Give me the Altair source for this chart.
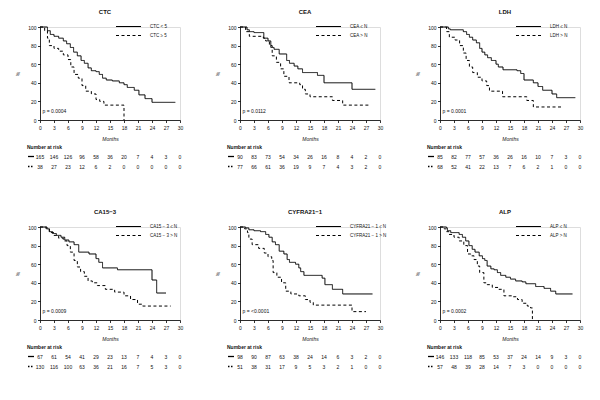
import altair as alt
import pandas as pd

FONT = "Liberation Sans"
MONTH_TICKS = [0, 3, 6, 9, 12, 15, 18, 21, 24, 27, 30]
PCT_TICKS = [0, 20, 40, 60, 80, 100]

TITLES = ["CTC", "CEA", "LDH", "CA15\u22123", "CYFRA21\u22121", "ALP"]
LEG_LOW = ["CTC < 5", "CEA \u2264 N", "LDH \u2264 N", "CA15 \u2212 3 \u2264 N", "CYFRA21 \u2212 1 \u2264 N", "ALP \u2264 N"]
LEG_HIGH = ["CTC \u2265 5", "CEA > N", "LDH > N", "CA15 \u2212 3 > N", "CYFRA21 \u2212 1 > N", "ALP > N"]
P_TEXT = ["p = 0.0004", "p = 0.0112", "p = 0.0001", "p = 0.0009", "p = <0.0001", "p = 0.0002"]

# CTC
CTC_T_LOW = [0, 1.6, 2.2, 3, 4, 5, 5.7, 6.5, 7.2, 8, 8.8, 9.5, 10.3, 11, 12, 12.7, 13.4, 14.2, 15.5, 17, 18, 18.7, 20.2, 21.2, 22.5, 24, 29]
CTC_S_LOW = [100, 96, 92, 90, 88, 85, 82, 78, 73, 69, 64, 61, 56, 53, 52, 49, 45, 43, 42, 40, 38, 35, 32, 27, 23, 19, 19]
CTC_T_HIGH = [0, 1, 1.6, 2, 3, 4, 5, 6, 6.6, 7.3, 8.2, 9, 9.8, 11, 12, 12.8, 13.7, 18]
CTC_S_HIGH = [100, 96, 88, 80, 77, 74, 70, 65, 57, 49, 45, 37, 31, 28, 22, 20, 16, 0]
CTC_RISK_LOW = [165, 146, 126, 96, 58, 36, 20, 7, 4, 3, 0]
CTC_RISK_HIGH = [38, 27, 23, 12, 6, 2, 0, 0, 0, 0, 0]

# CEA
CEA_T_LOW = [0, 1.5, 2, 3, 5.1, 6, 6.6, 7.3, 8.4, 10, 10.6, 11.6, 12.4, 13.4, 16.6, 18, 24, 29]
CEA_S_LOW = [100, 97, 95, 94, 88, 85, 78, 76, 71, 64, 61, 58, 55, 51, 48, 40, 33, 33]
CEA_T_HIGH = [0, 1.2, 2, 5, 5.5, 6.3, 6.9, 7.8, 8.7, 9.4, 10.5, 12.8, 13.4, 14, 15, 19.8, 22, 28]
CEA_S_HIGH = [100, 95, 90, 88, 85, 80, 69, 62, 55, 47, 40, 38, 33, 28, 25, 21, 16, 16]
CEA_RISK_LOW = [90, 83, 73, 54, 34, 26, 16, 8, 4, 2, 0]
CEA_RISK_HIGH = [77, 66, 61, 36, 19, 9, 7, 4, 3, 2, 0]

# LDH
LDH_T_LOW = [0, 1.8, 2.2, 5, 5.7, 6.3, 7, 7.8, 8.5, 9, 9.6, 10.2, 11, 12, 12.5, 13.5, 16.5, 17.3, 18, 20, 21, 22, 24, 25, 29]
LDH_S_LOW = [100, 98, 97, 95, 92, 89, 86, 83, 77, 73, 70, 67, 64, 60, 57, 54, 53, 50, 43, 40, 36, 32, 28, 24, 24]
LDH_T_HIGH = [0, 1.4, 2, 3.2, 4.2, 5, 5.6, 6.3, 7, 8, 9, 10, 10.6, 13.4, 18.6, 20, 26]
LDH_S_HIGH = [100, 95, 89, 86, 80, 72, 64, 57, 51, 46, 42, 37, 31, 25, 21, 14, 14]
LDH_RISK_LOW = [85, 82, 77, 57, 36, 26, 16, 10, 7, 3, 0]
LDH_RISK_HIGH = [68, 52, 41, 22, 13, 7, 6, 2, 1, 0, 0]

# CA15-3
CA_T_LOW = [0, 1.5, 2, 2.7, 3.5, 4.5, 5.3, 6.2, 7.3, 8.3, 10.5, 12, 12.6, 13.4, 16.6, 24, 25, 27]
CA_S_LOW = [100, 98, 95, 93, 91, 89, 86, 84, 81, 73, 71, 66, 62, 56, 54, 43, 29, 29]
CA_T_HIGH = [0, 1.3, 2, 3, 4, 5, 5.8, 6.5, 7.3, 8, 8.7, 9.5, 10.3, 11.2, 12.3, 14, 16, 18, 19.4, 20.9, 22, 28]
CA_S_HIGH = [100, 98, 94, 91, 88, 85, 80, 73, 64, 57, 52, 47, 42, 40, 37, 33, 30, 26, 22, 17, 15, 15]
CA_RISK_LOW = [67, 61, 54, 41, 29, 23, 13, 7, 4, 3, 0]
CA_RISK_HIGH = [130, 116, 100, 63, 36, 21, 16, 7, 5, 3, 0]

# CYFRA21-1
CY_T_LOW = [0, 1.2, 1.9, 3, 4.4, 5.5, 6.2, 6.9, 7.6, 8.4, 9.4, 10.1, 10.6, 11.9, 12.6, 13, 13.7, 17.6, 18.2, 19.8, 22, 28.4]
CY_S_LOW = [100, 99, 97, 96, 95, 92, 89, 84, 81, 74, 71, 65, 62, 60, 56, 52, 48, 45, 38, 33, 28, 28]
CY_T_HIGH = [0, 1, 1.6, 1.9, 2.6, 4, 5.2, 6, 6.8, 7.1, 7.9, 8.9, 9.8, 10.9, 12.6, 14, 15, 15.7, 24, 27]
CY_S_HIGH = [100, 98, 94, 87, 81, 77, 72, 68, 64, 51, 46, 40, 31, 28, 26, 22, 19, 16, 9, 9]
CY_RISK_LOW = [98, 90, 87, 63, 38, 24, 14, 6, 3, 2, 0]
CY_RISK_HIGH = [51, 38, 31, 17, 9, 5, 3, 2, 1, 0, 0]

# ALP
ALP_T_LOW = [0, 1.4, 1.6, 2.3, 4.1, 4.8, 5.5, 6.2, 6.9, 7.5, 8.4, 9.1, 9.6, 10.1, 10.9, 11.6, 12.3, 13, 14.1, 15.1, 16.2, 17.6, 18.4, 20.5, 22.3, 23.7, 24.8, 28.4]
ALP_S_LOW = [100, 99, 96, 94, 92, 89, 85, 80, 76, 73, 69, 66, 64, 58, 55, 54, 51, 48, 46, 44, 42, 41, 39, 36, 34, 31, 28, 28]
ALP_T_HIGH = [0, 0.9, 1.4, 1.9, 3, 4.1, 5.1, 5.9, 6.6, 7.3, 8, 8.5, 9.4, 10.1, 11.2, 12.6, 13.7, 15.5, 16.6, 17.6, 18.7, 19.4, 19.8]
ALP_S_HIGH = [100, 98, 95, 92, 89, 85, 80, 71, 69, 65, 58, 51, 40, 38, 35, 33, 26, 25, 22, 18, 15, 13, 1]
ALP_RISK_LOW = [146, 133, 118, 85, 53, 37, 24, 14, 9, 3, 0]
ALP_RISK_HIGH = [57, 48, 39, 28, 14, 7, 3, 0, 0, 0, 0]

CURVES = [
    (CTC_T_LOW, CTC_S_LOW, CTC_T_HIGH, CTC_S_HIGH, CTC_RISK_LOW, CTC_RISK_HIGH),
    (CEA_T_LOW, CEA_S_LOW, CEA_T_HIGH, CEA_S_HIGH, CEA_RISK_LOW, CEA_RISK_HIGH),
    (LDH_T_LOW, LDH_S_LOW, LDH_T_HIGH, LDH_S_HIGH, LDH_RISK_LOW, LDH_RISK_HIGH),
    (CA_T_LOW, CA_S_LOW, CA_T_HIGH, CA_S_HIGH, CA_RISK_LOW, CA_RISK_HIGH),
    (CY_T_LOW, CY_S_LOW, CY_T_HIGH, CY_S_HIGH, CY_RISK_LOW, CY_RISK_HIGH),
    (ALP_T_LOW, ALP_S_LOW, ALP_T_HIGH, ALP_S_HIGH, ALP_RISK_LOW, ALP_RISK_HIGH),
]

W, H = 140, 93
DASH = [3, 2.5]
FS = 5
INK = "#111111"

AXIS_STYLE = dict(
    tickSize=2.5, labelFontSize=FS, titleFontSize=FS, labelFont=FONT,
    titleFont=FONT, titleFontWeight="normal", labelColor=INK, titleColor=INK,
    domainColor="black", tickColor="black", domainWidth=0.8, tickWidth=0.8,
    grid=False, labelFlush=False,
)


def panel(i):
    tl, sl, th, sh, rl, rh = CURVES[i]
    curves = pd.concat([
        pd.DataFrame({"time": tl, "surv": sl, "grp": "low"}),
        pd.DataFrame({"time": th, "surv": sh, "grp": "high"}),
    ])
    xs = alt.Scale(domain=[0, 30], nice=False, zero=False)
    ys = alt.Scale(domain=[0, 100], nice=False)
    x_axis = alt.Axis(values=MONTH_TICKS, title="Months", labelPadding=2.5,
                      titlePadding=6, titleFontStyle="italic", **AXIS_STYLE)

    lines = alt.Chart(curves).mark_line(
        interpolate="step-after", color="black", strokeWidth=1
    ).encode(
        x=alt.X("time:Q", scale=xs, axis=x_axis),
        y=alt.Y("surv:Q", scale=ys, axis=alt.Axis(
            values=PCT_TICKS, title="%", labelPadding=1.5, titlePadding=7,
            **AXIS_STYLE)),
        strokeDash=alt.StrokeDash("grp:N", scale=alt.Scale(
            domain=["low", "high"], range=[[1, 0], DASH]), legend=None),
    )

    one = pd.DataFrame({"k": [0]})
    leg_low_line = alt.Chart(one).mark_rule(color="black", strokeWidth=1).encode(
        x=alt.value(76), x2=alt.value(101), y=alt.value(-0.5))
    leg_high_line = alt.Chart(one).mark_rule(color="black", strokeWidth=1, strokeDash=DASH).encode(
        x=alt.value(76), x2=alt.value(101), y=alt.value(8.5))
    leg_low_txt = alt.Chart(pd.DataFrame({"lab": [LEG_LOW[i]]})).mark_text(
        align="left", baseline="middle", fontSize=4.5, font=FONT, color=INK).encode(
        x=alt.value(110), y=alt.value(-0.5), text="lab:N")
    leg_high_txt = alt.Chart(pd.DataFrame({"lab": [LEG_HIGH[i]]})).mark_text(
        align="left", baseline="middle", fontSize=4.5, font=FONT, color=INK).encode(
        x=alt.value(110), y=alt.value(8.5), text="lab:N")

    ptxt = alt.Chart(pd.DataFrame({"lab": [P_TEXT[i]]})).mark_text(
        align="left", baseline="middle", fontSize=FS, font=FONT, color=INK).encode(
        x=alt.value(2.5), y=alt.value(83.5), text="lab:N")

    nar = alt.Chart(pd.DataFrame({"lab": ["Number at risk"]})).mark_text(
        align="left", baseline="middle", fontSize=FS, font=FONT, fontWeight="bold",
        color=INK).encode(
        x=alt.value(-13), y=alt.value(119.5), text="lab:N")
    samp_low = alt.Chart(one).mark_rule(color="black", strokeWidth=1.3).encode(
        x=alt.value(-12), x2=alt.value(-6), y=alt.value(129.5))
    samp_high = alt.Chart(one).mark_rule(color="black", strokeWidth=1.3, strokeDash=[1.5, 1.5]).encode(
        x=alt.value(-12), x2=alt.value(-6), y=alt.value(139.5))

    risk_low = alt.Chart(pd.DataFrame({"time": MONTH_TICKS, "n": rl})).mark_text(
        baseline="middle", fontSize=FS, font=FONT, color=INK).encode(
        x=alt.X("time:Q", scale=xs, axis=x_axis), y=alt.value(129.5), text="n:Q")
    risk_high = alt.Chart(pd.DataFrame({"time": MONTH_TICKS, "n": rh})).mark_text(
        baseline="middle", fontSize=FS, font=FONT, color=INK).encode(
        x=alt.X("time:Q", scale=xs, axis=x_axis), y=alt.value(139.5), text="n:Q")

    return alt.layer(
        lines, leg_low_line, leg_high_line, leg_low_txt, leg_high_txt, ptxt,
        nar, samp_low, samp_high, risk_low, risk_high,
    ).properties(
        width=W, height=H,
        title=alt.TitleParams(TITLES[i], fontSize=6, fontWeight="bold", font=FONT,
                              offset=9, dx=-5, color=INK),
    )


chart = alt.concat(
    *[panel(i) for i in range(6)], columns=3,
    spacing={"row": 107, "column": 60}, bounds="flush",
).properties(
    padding={"left": 7, "top": 0, "right": 0, "bottom": 0}
).configure_view(stroke=None).configure(background="white")

chart.save("out.html", embed_options={"renderer": "svg", "actions": False})
